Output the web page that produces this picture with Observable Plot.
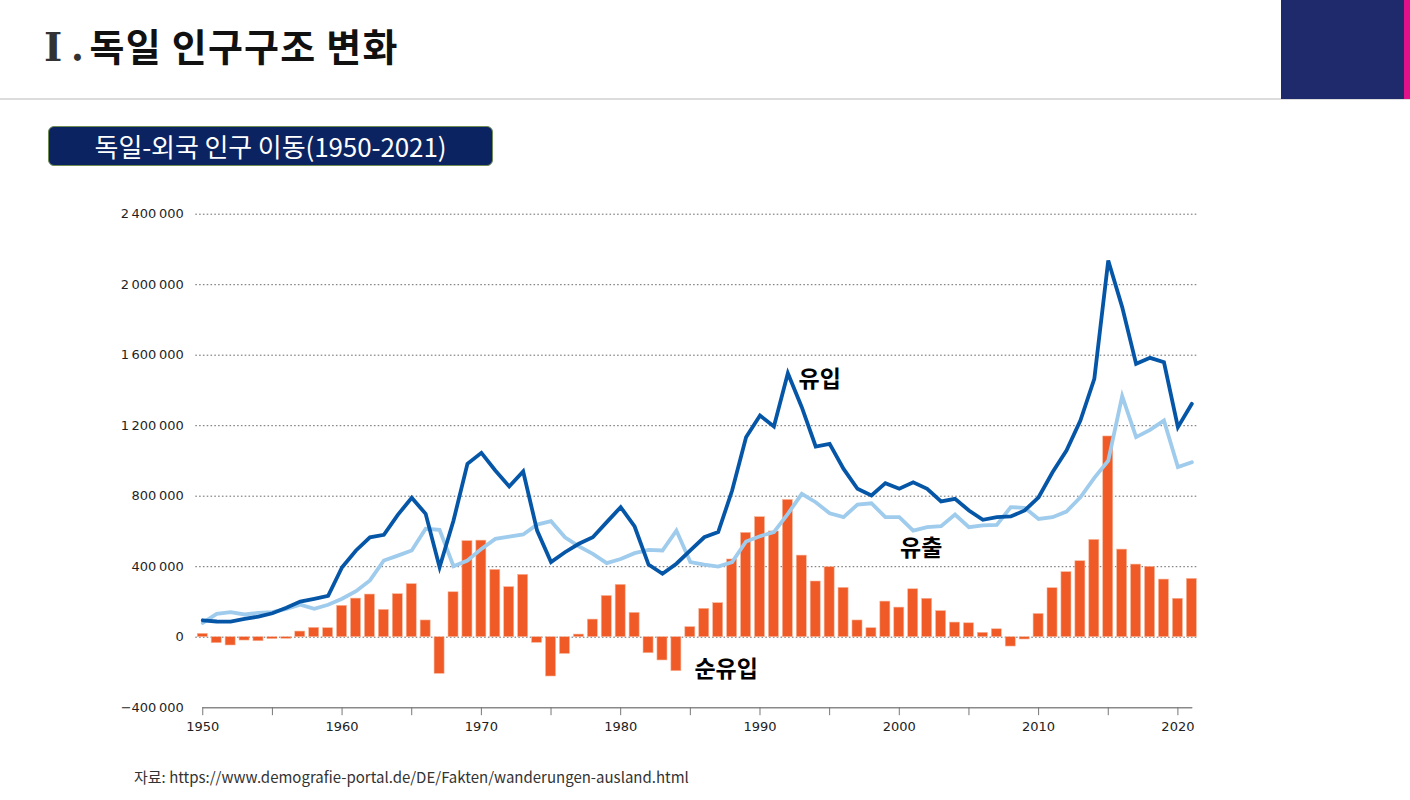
<!DOCTYPE html>
<html>
<head>
<meta charset="utf-8">
<script src="https://cdn.jsdelivr.net/npm/d3@7"></script>
<script src="https://cdn.jsdelivr.net/npm/@observablehq/plot@0.6"></script>
<style>
  html, body { margin: 0; padding: 0; background: #fff; }
  #page { position: relative; width: 1410px; height: 800px; overflow: hidden; font-family: "Noto Sans CJK KR", "Noto Sans", sans-serif; }
  #title { position: absolute; left: 44px; top: 17px; font-size: 38px; font-weight: 700; color: #111; white-space: nowrap; line-height: 56px; letter-spacing: 1.2px; }
  #title .num { color: #333; font-family: "DejaVu Serif", "Liberation Serif", serif; font-size: 39px; letter-spacing: 0; }
  #title .dot { color: #333; margin-left: 9px; margin-right: 6px; letter-spacing: 0; }
  #hr { position: absolute; left: 0; top: 98px; width: 1410px; height: 2px; background: #dcdcdc; }
  #navy { position: absolute; left: 1281px; top: 0; width: 123px; height: 99px; background: #1f2a6c; }
  #pink { position: absolute; left: 1404px; top: 0; width: 6px; height: 99px; background: #e0118a; }
  #sub { position: absolute; left: 48px; top: 126px; width: 443px; height: 38px; background: #0b2461; border: 1.5px solid #6f8c52; border-radius: 6px;
         color: #fff; font-size: 26px; font-weight: 400; text-align: center; line-height: 38px; white-space: nowrap; letter-spacing: -0.1px; }
  #chart { position: absolute; left: 0; top: 180px; }
  #cap { position: absolute; left: 134px; top: 766px; font-size: 15px; color: #333; white-space: nowrap; }
  #chart svg text.axislbl { font-family: "DejaVu Sans", sans-serif !important; font-size: 13px !important; }
</style>
</head>
<body>
<div id="page">
  <div id="title"><span class="num">Ⅰ</span><span class="dot">.</span>독일 인구구조 변화</div>
  <div id="hr"></div>
  <div id="navy"></div>
  <div id="pink"></div>
  <div id="sub">독일-외국 인구 이동(1950-2021)</div>
  <div id="chart"></div>
  <div id="cap">자료: https://www.demografie-portal.de/DE/Fakten/wanderungen-ausland.html</div>
</div>
<script>
const years = [1950,1951,1952,1953,1954,1955,1956,1957,1958,1959,
  1960,1961,1962,1963,1964,1965,1966,1967,1968,1969,
  1970,1971,1972,1973,1974,1975,1976,1977,1978,1979,
  1980,1981,1982,1983,1984,1985,1986,1987,1988,1989,
  1990,1991,1992,1993,1994,1995,1996,1997,1998,1999,
  2000,2001,2002,2003,2004,2005,2006,2007,2008,2009,
  2010,2011,2012,2013,2014,2015,2016,2017,2018,2019,
  2020,2021];

// 유입 (inflow)
const inflow = [96000,89000,88000,104000,117000,136000,167000,202000,218000,235000,
  397000,492000,567000,581000,694000,791000,700000,397000,662000,984000,
  1046000,946000,855000,940000,605000,426000,482000,530000,567000,653000,
  738000,628000,412000,360000,417000,492000,567000,596000,832000,1135000,
  1258000,1196000,1498000,1305000,1082000,1097000,955000,842000,804000,874000,
  842000,879000,842000,770000,785000,719000,666000,681000,685000,719000,
  794000,936000,1059000,1229000,1466000,2137000,1873000,1551000,1585000,1560000,
  1192000,1324000];

// 유출 (outflow)
const outflow = [81000,132000,142000,129000,138000,142000,161000,184000,161000,184000,
  218000,261000,322000,435000,463000,492000,615000,609000,403000,435000,
  501000,558000,571000,583000,639000,658000,567000,515000,473000,420000,
  444000,477000,495000,492000,605000,426000,412000,401000,426000,543000,
  573000,596000,700000,813000,766000,703000,681000,753000,760000,681000,
  681000,605000,624000,630000,696000,624000,634000,637000,738000,734000,
  671000,681000,713000,794000,904000,1002000,1368000,1135000,1176000,1229000,
  965000,993000];

// 순유입 (net migration)
const net = [19000,-34000,-47000,-19000,-23000,-11000,-9000,32000,53000,51000,
  178000,219000,242000,155000,244000,301000,95000,-208000,255000,545000,
  548000,382000,284000,354000,-32000,-223000,-95000,15000,100000,234000,
  297000,138000,-91000,-132000,-193000,57000,161000,193000,441000,592000,
  681000,600000,779000,463000,316000,397000,280000,95000,51000,202000,
  168000,272000,218000,148000,83000,79000,25000,45000,-53000,-13000,
  132000,278000,369000,431000,552000,1139000,497000,412000,399000,327000,
  218000,331000];

const yTicks = [-400000, 0, 400000, 800000, 1200000, 1600000, 2000000, 2400000];
const xTickYears = [1950,1955,1960,1965,1970,1975,1980,1985,1990,1995,2000,2005,2010,2015,2020];

const seriesLabels = [
  {year: 1994, value: 1460000, text: "유입"},
  {year: 2001, value: 500000, text: "유출"},
  {year: 1988, value: -183000, text: "순유입"}
];
const labelShift = {"유입": 4, "유출": 8, "순유입": -6};

const rows = years.map((yr, i) => ({year: yr, inflow: inflow[i], outflow: outflow[i], net: net[i]}));
const yMin = yTicks[0], yMax = yTicks[yTicks.length - 1];
const axisLine = [{year: years[0], v: yMin}, {year: years[years.length - 1], v: yMin}];

const fmt = d => d3.format(",")(d).replace(/,/g, "\u2009").replace("-", "\u2212");

const chart = Plot.plot({
  width: 1410,
  height: 560,
  marginLeft: 195.3,
  marginRight: 211.7,
  marginTop: 33.7,
  marginBottom: 32.8,
  style: {fontFamily: "DejaVu Sans, sans-serif", fontSize: "13px", background: "transparent"},
  x: {type: "band", domain: years, paddingInner: 0.28, paddingOuter: 0.14, axis: null, label: null},
  y: {domain: [yMin, yMax], axis: null, label: null},
  marks: [
    Plot.gridY(yTicks.slice(1), {stroke: "#6b6b6b", strokeOpacity: 1, strokeWidth: 1, strokeDasharray: "1.6,2.2"}),
    Plot.axisY(yTicks, {tickSize: 0, tickPadding: 12, tickFormat: fmt, fill: "#1f1f1f", label: null}),
    Plot.barY(rows, {x: "year", y: "net", fill: "#ef5a26", stroke: "#f7b79c", strokeWidth: 0.6}),
    Plot.lineY(rows, {x: "year", y: "outflow", stroke: "#9fcbec", strokeWidth: 3.8, strokeLinejoin: "miter", strokeMiterlimit: 4}),
    Plot.lineY(rows, {x: "year", y: "inflow", stroke: "#0656a8", strokeWidth: 3.8, strokeLinejoin: "miter", strokeMiterlimit: 4}),
    Plot.line(axisLine, {x: "year", y: "v", stroke: "#8a8a8a", strokeWidth: 1.4}),
    Plot.axisX(xTickYears, {tickSize: 8, tickPadding: 6, stroke: "#777", tickFormat: d => d % 10 === 0 ? String(d) : "", fill: "#222", label: null}),
    Plot.text(seriesLabels, {x: "year", y: "value", text: "text", fontSize: 23, fontWeight: "bold", fill: "#000", fontFamily: "Noto Sans CJK KR"})
  ]
});
chart.querySelectorAll("text").forEach(t => {
  const s = labelShift[t.textContent];
  if (s !== undefined) t.setAttribute("dx", s);
  if (/^[0-9\u2009\u2212]+$/.test(t.textContent.trim())) {
    t.classList.add("axislbl");
    t.setAttribute("font-size", "13");
    t.setAttribute("font-family", "DejaVu Sans");
  }
});
document.getElementById("chart").appendChild(chart);
</script>
</body>
</html>
